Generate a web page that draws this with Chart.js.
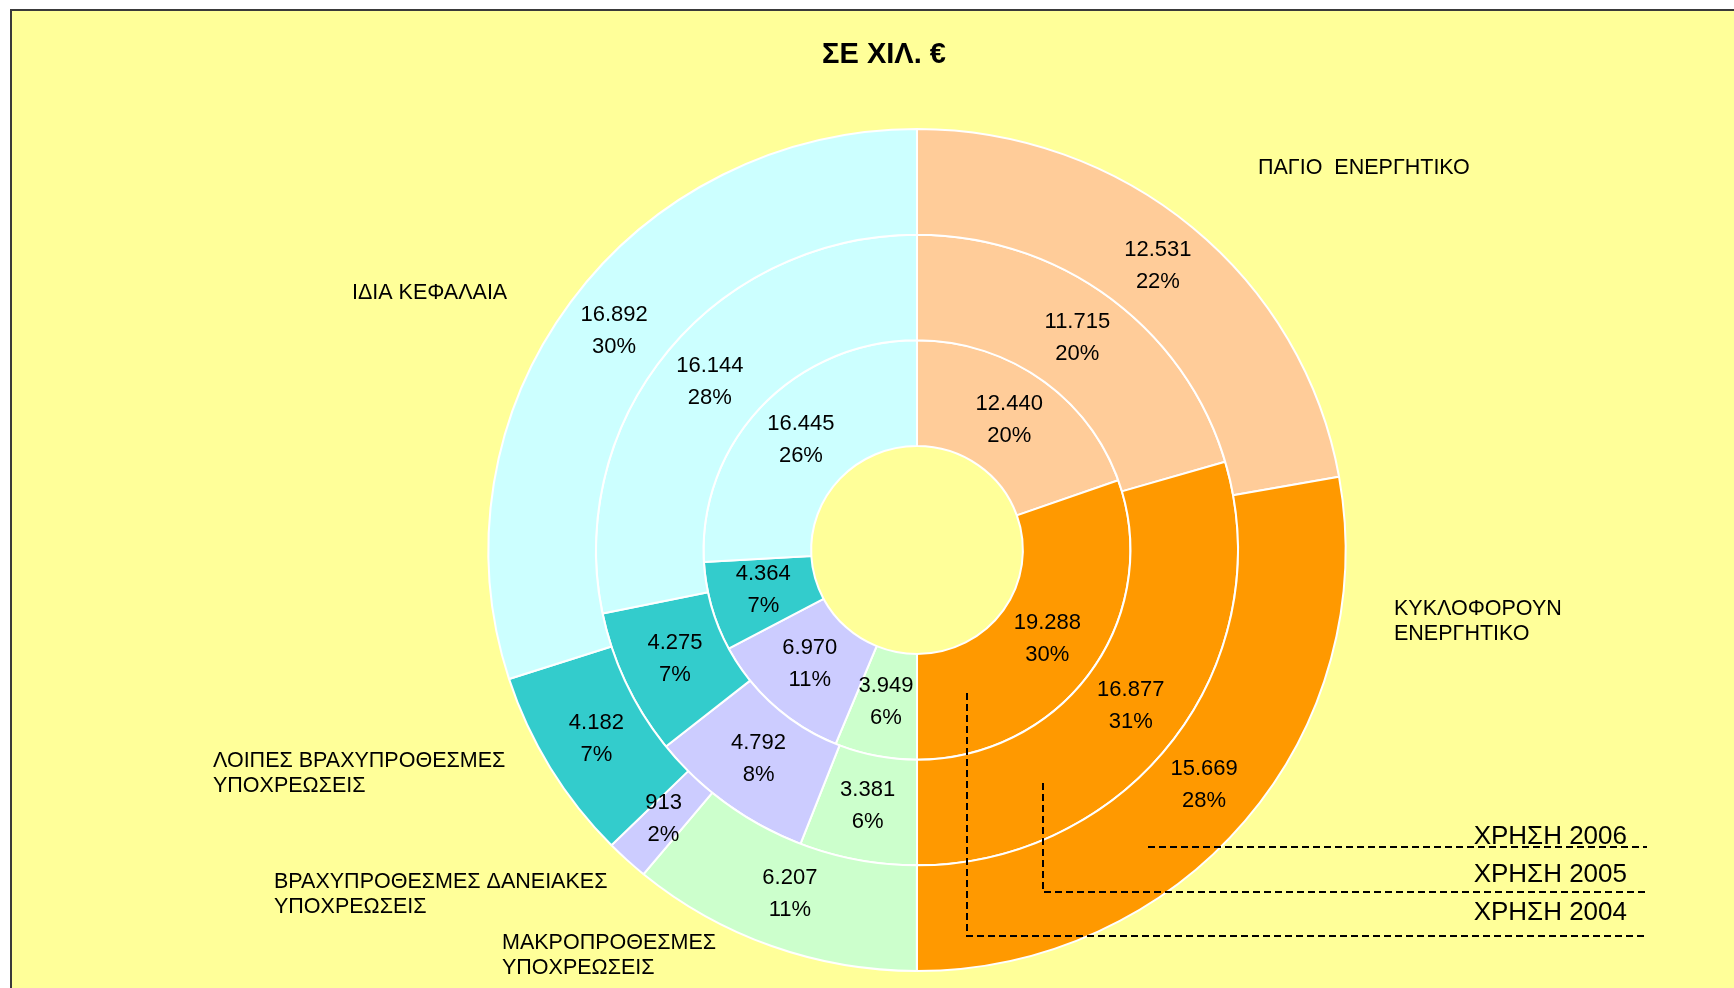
<!DOCTYPE html>
<html>
<head>
<meta charset="utf-8">
<script src="https://cdn.jsdelivr.net/npm/chart.js@4.4.1/dist/chart.umd.min.js"></script>
<style>
  html, body { margin: 0; padding: 0; background: #ffffff; width: 1734px; height: 988px; overflow: hidden; }
  #frame { position: absolute; left: 10px; top: 9px; width: 1740px; height: 1000px;
           border-top: 2px solid #3a3a3a; border-left: 2px solid #3a3a3a; background: #FFFF99; }
  #c { position: absolute; left: 0; top: 0; }
</style>
</head>
<body>
<div id="frame"></div>
<canvas id="c" width="1734" height="988"></canvas>
<script>
// ---- data ----
const categories = ['ΠΑΓΙΟ  ΕΝΕΡΓΗΤΙΚΟ', 'ΚΥΚΛΟΦΟΡΟΥΝ ΕΝΕΡΓΗΤΙΚΟ', 'ΜΑΚΡΟΠΡΟΘΕΣΜΕΣ ΥΠΟΧΡΕΩΣΕΙΣ',
                    'ΒΡΑΧΥΠΡΟΘΕΣΜΕΣ ΔΑΝΕΙΑΚΕΣ ΥΠΟΧΡΕΩΣΕΙΣ', 'ΛΟΙΠΕΣ ΒΡΑΧΥΠΡΟΘΕΣΜΕΣ ΥΠΟΧΡΕΩΣΕΙΣ', 'ΙΔΙΑ ΚΕΦΑΛΑΙΑ'];
const categoryLines = [['ΠΑΓΙΟ  ΕΝΕΡΓΗΤΙΚΟ'], ['ΚΥΚΛΟΦΟΡΟΥΝ', 'ΕΝΕΡΓΗΤΙΚΟ'], ['ΜΑΚΡΟΠΡΟΘΕΣΜΕΣ', 'ΥΠΟΧΡΕΩΣΕΙΣ'],
                       ['ΒΡΑΧΥΠΡΟΘΕΣΜΕΣ ΔΑΝΕΙΑΚΕΣ', 'ΥΠΟΧΡΕΩΣΕΙΣ'], ['ΛΟΙΠΕΣ ΒΡΑΧΥΠΡΟΘΕΣΜΕΣ', 'ΥΠΟΧΡΕΩΣΕΙΣ'], ['ΙΔΙΑ ΚΕΦΑΛΑΙΑ']];
const yearLabels = ['ΧΡΗΣΗ 2006', 'ΧΡΗΣΗ 2005', 'ΧΡΗΣΗ 2004'];
const values2006 = [12531, 15669, 6207, 913, 4182, 16892];
const values2005 = [11715, 16877, 3381, 4792, 4275, 16144];
const values2004 = [12440, 19288, 3949, 6970, 4364, 16445];
const pct2006 = [22, 28, 11, 2, 7, 30];
const pct2005 = [20, 31, 6, 8, 7, 28];
const pct2004 = [20, 30, 6, 11, 7, 26];
const titleText = 'ΣΕ ΧΙΛ. €';

// ---- styles / layout ----
const colors = ['#FFCC99', '#FF9900', '#CCFFCC', '#CCCCFF', '#33CCCC', '#CCFFFF'];
const FONT = '"Liberation Sans", Arial, sans-serif';
const STRETCH_X = 1.018; // the original pie is slightly wider than tall
const catPos = [[1258, 168], [1394, 609], [502, 943], [274, 882], [213, 761], [352, 293]];
// leader lines relative to pie centre: [vertical x offset, start dy, horizontal dy]
const leaderRel = [[231, 297, 297], [126, 233, 342], [50, 143, 386]];
const leaderEndX = 1647;
const yearTextPos = [[1627, 844], [1627, 882], [1627, 920]];

function fmt(v) { return String(v).replace(/\B(?=(\d{3})+(?!\d))/g, '.'); }

const pctSets = [pct2006, pct2005, pct2004];

function centre(chart) {
  const a = chart.chartArea;
  return { cx: (a.left + a.right) / 2, cy: (a.top + a.bottom) / 2 };
}

const overlay = {
  id: 'overlay',
  beforeDatasetsDraw(chart) {
    const ctx = chart.ctx;
    const { cx, cy } = centre(chart);
    ctx.save();
    ctx.translate(cx, cy);
    ctx.scale(STRETCH_X, 1);
    ctx.translate(-cx, -cy);
  },
  afterDatasetsDraw(chart) {
    const ctx = chart.ctx;
    ctx.restore();
    const { cx, cy } = centre(chart);
    ctx.save();
    ctx.fillStyle = '#000';
    ctx.textAlign = 'center';
    ctx.textBaseline = 'middle';
    ctx.font = '22px ' + FONT;
    chart.data.datasets.forEach((ds, di) => {
      const meta = chart.getDatasetMeta(di);
      meta.data.forEach((arc, i) => {
        const p = arc.tooltipPosition();
        const x = cx + (p.x - cx) * STRETCH_X;
        ctx.fillText(fmt(ds.data[i]), x, p.y - 18);
        ctx.fillText(pctSets[di][i] + '%', x, p.y + 14);
      });
    });
    // category labels
    ctx.textAlign = 'left';
    ctx.font = '21.5px ' + FONT;
    categoryLines.forEach((lines, i) => {
      lines.forEach((t, j) => ctx.fillText(t, catPos[i][0], catPos[i][1] + j * 25.5));
    });
    // title
    ctx.textAlign = 'center';
    ctx.font = 'bold 29px ' + FONT;
    ctx.fillText(titleText, 884, 55);
    // leader lines
    ctx.strokeStyle = '#000';
    ctx.lineWidth = 2;
    ctx.setLineDash([7, 4]);
    leaderRel.forEach(r => {
      ctx.beginPath();
      ctx.moveTo(cx + r[0], cy + r[1]);
      ctx.lineTo(cx + r[0], cy + r[2]);
      ctx.lineTo(leaderEndX, cy + r[2]);
      ctx.stroke();
    });
    ctx.setLineDash([]);
    ctx.textAlign = 'right';
    ctx.textBaseline = 'alphabetic';
    ctx.font = '26px ' + FONT;
    yearLabels.forEach((t, i) => ctx.fillText(t, yearTextPos[i][0], yearTextPos[i][1]));
    ctx.restore();
  }
};

new Chart(document.getElementById('c'), {
  type: 'doughnut',
  data: {
    labels: categories,
    datasets: [
      { label: yearLabels[0], data: values2006, backgroundColor: colors, borderColor: '#ffffff', borderWidth: 2 },
      { label: yearLabels[1], data: values2005, backgroundColor: colors, borderColor: '#ffffff', borderWidth: 2 },
      { label: yearLabels[2], data: values2004, backgroundColor: colors, borderColor: '#ffffff', borderWidth: 2 }
    ]
  },
  options: {
    responsive: false,
    animation: false,
    radius: 421,
    cutout: '24.7%',
    layout: { padding: { left: 487, right: 387, top: 130, bottom: 18 } },
    plugins: { legend: { display: false }, tooltip: { enabled: false }, title: { display: false } }
  },
  plugins: [overlay]
});
</script>
</body>
</html>
